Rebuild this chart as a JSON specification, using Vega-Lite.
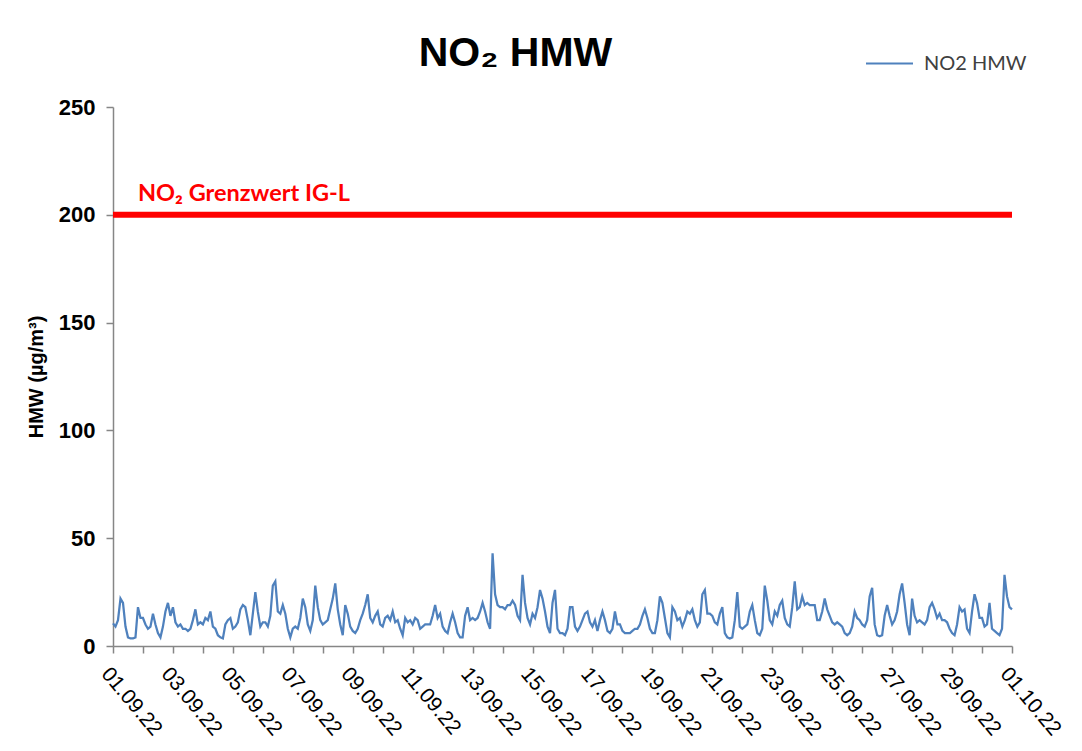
{
"$schema": "https://vega.github.io/schema/vega-lite/v6.json",
"width": 899, "height": 539,
"autosize": {"type": "none"},
"padding": {"left": 113, "top": 107, "right": 70, "bottom": 105},
"background": "white",
"title": {"text": "NO₂ HMW", "font": "Liberation Sans", "fontSize": 41, "fontWeight": "bold", "color": "black", "anchor": "middle", "dx": -47, "offset": 30, "dy": 66},
"config": {"view": {"stroke": null}},
"data": {"values": [
{"t":"2022-09-01T00:00","v":10.5},{"t":"2022-09-01T02:00","v":9},{"t":"2022-09-01T04:00","v":12},{"t":"2022-09-01T06:00","v":22},{"t":"2022-09-01T08:00","v":20},{"t":"2022-09-01T10:00","v":9},{"t":"2022-09-01T12:00","v":4},{"t":"2022-09-01T14:00","v":3.5},{"t":"2022-09-01T16:00","v":3.5},{"t":"2022-09-01T18:00","v":4},{"t":"2022-09-01T20:00","v":18},{"t":"2022-09-01T22:00","v":13},
{"t":"2022-09-02T00:00","v":13},{"t":"2022-09-02T02:00","v":10},{"t":"2022-09-02T04:00","v":8},{"t":"2022-09-02T06:00","v":9},{"t":"2022-09-02T08:00","v":15},{"t":"2022-09-02T10:00","v":10},{"t":"2022-09-02T12:00","v":6},{"t":"2022-09-02T14:00","v":4},{"t":"2022-09-02T16:00","v":9},{"t":"2022-09-02T18:00","v":16},{"t":"2022-09-02T20:00","v":20},{"t":"2022-09-02T22:00","v":14},
{"t":"2022-09-03T00:00","v":18},{"t":"2022-09-03T02:00","v":11},{"t":"2022-09-03T04:00","v":9},{"t":"2022-09-03T06:00","v":10},{"t":"2022-09-03T08:00","v":8},{"t":"2022-09-03T10:00","v":8},{"t":"2022-09-03T12:00","v":7},{"t":"2022-09-03T14:00","v":8},{"t":"2022-09-03T16:00","v":12},{"t":"2022-09-03T18:00","v":17},{"t":"2022-09-03T20:00","v":10},{"t":"2022-09-03T22:00","v":11},
{"t":"2022-09-04T00:00","v":10},{"t":"2022-09-04T02:00","v":13},{"t":"2022-09-04T04:00","v":12},{"t":"2022-09-04T06:00","v":16},{"t":"2022-09-04T08:00","v":9},{"t":"2022-09-04T10:00","v":8},{"t":"2022-09-04T12:00","v":5},{"t":"2022-09-04T14:00","v":4},{"t":"2022-09-04T16:00","v":3.5},{"t":"2022-09-04T18:00","v":10},{"t":"2022-09-04T20:00","v":12},{"t":"2022-09-04T22:00","v":13},
{"t":"2022-09-05T00:00","v":8},{"t":"2022-09-05T02:00","v":9},{"t":"2022-09-05T04:00","v":11},{"t":"2022-09-05T06:00","v":17},{"t":"2022-09-05T08:00","v":19},{"t":"2022-09-05T10:00","v":18},{"t":"2022-09-05T12:00","v":12},{"t":"2022-09-05T14:00","v":5},{"t":"2022-09-05T16:00","v":15},{"t":"2022-09-05T18:00","v":25},{"t":"2022-09-05T20:00","v":16},{"t":"2022-09-05T22:00","v":9},
{"t":"2022-09-06T00:00","v":11},{"t":"2022-09-06T02:00","v":11},{"t":"2022-09-06T04:00","v":9},{"t":"2022-09-06T06:00","v":14},{"t":"2022-09-06T08:00","v":28},{"t":"2022-09-06T10:00","v":30},{"t":"2022-09-06T12:00","v":16},{"t":"2022-09-06T14:00","v":15},{"t":"2022-09-06T16:00","v":19},{"t":"2022-09-06T18:00","v":15},{"t":"2022-09-06T20:00","v":8},{"t":"2022-09-06T22:00","v":4},
{"t":"2022-09-07T00:00","v":8},{"t":"2022-09-07T02:00","v":9},{"t":"2022-09-07T04:00","v":8},{"t":"2022-09-07T06:00","v":13},{"t":"2022-09-07T08:00","v":22},{"t":"2022-09-07T10:00","v":18},{"t":"2022-09-07T12:00","v":10},{"t":"2022-09-07T14:00","v":7},{"t":"2022-09-07T16:00","v":12},{"t":"2022-09-07T18:00","v":28},{"t":"2022-09-07T20:00","v":18},{"t":"2022-09-07T22:00","v":12},
{"t":"2022-09-08T00:00","v":10},{"t":"2022-09-08T02:00","v":11},{"t":"2022-09-08T04:00","v":12},{"t":"2022-09-08T06:00","v":17},{"t":"2022-09-08T08:00","v":22},{"t":"2022-09-08T10:00","v":29},{"t":"2022-09-08T12:00","v":17},{"t":"2022-09-08T14:00","v":10},{"t":"2022-09-08T16:00","v":5},{"t":"2022-09-08T18:00","v":19},{"t":"2022-09-08T20:00","v":15},{"t":"2022-09-08T22:00","v":9},
{"t":"2022-09-09T00:00","v":7},{"t":"2022-09-09T02:00","v":6},{"t":"2022-09-09T04:00","v":8},{"t":"2022-09-09T06:00","v":12},{"t":"2022-09-09T08:00","v":15},{"t":"2022-09-09T10:00","v":19},{"t":"2022-09-09T12:00","v":24},{"t":"2022-09-09T14:00","v":13},{"t":"2022-09-09T16:00","v":11},{"t":"2022-09-09T18:00","v":14},{"t":"2022-09-09T20:00","v":16},{"t":"2022-09-09T22:00","v":10},
{"t":"2022-09-10T00:00","v":9},{"t":"2022-09-10T02:00","v":13},{"t":"2022-09-10T04:00","v":14},{"t":"2022-09-10T06:00","v":12},{"t":"2022-09-10T08:00","v":16},{"t":"2022-09-10T10:00","v":11},{"t":"2022-09-10T12:00","v":12},{"t":"2022-09-10T14:00","v":8},{"t":"2022-09-10T16:00","v":5},{"t":"2022-09-10T18:00","v":13},{"t":"2022-09-10T20:00","v":11},{"t":"2022-09-10T22:00","v":12},
{"t":"2022-09-11T00:00","v":10},{"t":"2022-09-11T02:00","v":13},{"t":"2022-09-11T04:00","v":12},{"t":"2022-09-11T06:00","v":8},{"t":"2022-09-11T08:00","v":9},{"t":"2022-09-11T10:00","v":10},{"t":"2022-09-11T12:00","v":10},{"t":"2022-09-11T14:00","v":10},{"t":"2022-09-11T16:00","v":14},{"t":"2022-09-11T18:00","v":19},{"t":"2022-09-11T20:00","v":13},{"t":"2022-09-11T22:00","v":15},
{"t":"2022-09-12T00:00","v":9},{"t":"2022-09-12T02:00","v":7},{"t":"2022-09-12T04:00","v":6},{"t":"2022-09-12T06:00","v":11},{"t":"2022-09-12T08:00","v":15},{"t":"2022-09-12T10:00","v":11},{"t":"2022-09-12T12:00","v":6},{"t":"2022-09-12T14:00","v":4},{"t":"2022-09-12T16:00","v":4},{"t":"2022-09-12T18:00","v":14},{"t":"2022-09-12T20:00","v":18},{"t":"2022-09-12T22:00","v":12},
{"t":"2022-09-13T00:00","v":13},{"t":"2022-09-13T02:00","v":12},{"t":"2022-09-13T04:00","v":13},{"t":"2022-09-13T06:00","v":16},{"t":"2022-09-13T08:00","v":20},{"t":"2022-09-13T10:00","v":16},{"t":"2022-09-13T12:00","v":11},{"t":"2022-09-13T14:00","v":8},{"t":"2022-09-13T16:00","v":43},{"t":"2022-09-13T18:00","v":24},{"t":"2022-09-13T20:00","v":19},{"t":"2022-09-13T22:00","v":18},
{"t":"2022-09-14T00:00","v":18},{"t":"2022-09-14T02:00","v":17},{"t":"2022-09-14T04:00","v":19},{"t":"2022-09-14T06:00","v":19},{"t":"2022-09-14T08:00","v":21},{"t":"2022-09-14T10:00","v":19},{"t":"2022-09-14T12:00","v":14},{"t":"2022-09-14T14:00","v":12},{"t":"2022-09-14T16:00","v":33},{"t":"2022-09-14T18:00","v":20},{"t":"2022-09-14T20:00","v":13},{"t":"2022-09-14T22:00","v":10},
{"t":"2022-09-15T00:00","v":15},{"t":"2022-09-15T02:00","v":13},{"t":"2022-09-15T04:00","v":18},{"t":"2022-09-15T06:00","v":26},{"t":"2022-09-15T08:00","v":22},{"t":"2022-09-15T10:00","v":16},{"t":"2022-09-15T12:00","v":9},{"t":"2022-09-15T14:00","v":6},{"t":"2022-09-15T16:00","v":20},{"t":"2022-09-15T18:00","v":26},{"t":"2022-09-15T20:00","v":8},{"t":"2022-09-15T22:00","v":6},
{"t":"2022-09-16T00:00","v":6},{"t":"2022-09-16T02:00","v":5},{"t":"2022-09-16T04:00","v":8},{"t":"2022-09-16T06:00","v":18},{"t":"2022-09-16T08:00","v":18},{"t":"2022-09-16T10:00","v":9},{"t":"2022-09-16T12:00","v":7},{"t":"2022-09-16T14:00","v":9},{"t":"2022-09-16T16:00","v":12},{"t":"2022-09-16T18:00","v":15},{"t":"2022-09-16T20:00","v":16},{"t":"2022-09-16T22:00","v":11},
{"t":"2022-09-17T00:00","v":9},{"t":"2022-09-17T02:00","v":12},{"t":"2022-09-17T04:00","v":7},{"t":"2022-09-17T06:00","v":12},{"t":"2022-09-17T08:00","v":16},{"t":"2022-09-17T10:00","v":12},{"t":"2022-09-17T12:00","v":7},{"t":"2022-09-17T14:00","v":6},{"t":"2022-09-17T16:00","v":8},{"t":"2022-09-17T18:00","v":16},{"t":"2022-09-17T20:00","v":10},{"t":"2022-09-17T22:00","v":10},
{"t":"2022-09-18T00:00","v":7},{"t":"2022-09-18T02:00","v":6},{"t":"2022-09-18T04:00","v":6},{"t":"2022-09-18T06:00","v":6},{"t":"2022-09-18T08:00","v":7},{"t":"2022-09-18T10:00","v":8},{"t":"2022-09-18T12:00","v":8},{"t":"2022-09-18T14:00","v":10},{"t":"2022-09-18T16:00","v":14},{"t":"2022-09-18T18:00","v":17},{"t":"2022-09-18T20:00","v":13},{"t":"2022-09-18T22:00","v":8},
{"t":"2022-09-19T00:00","v":6},{"t":"2022-09-19T02:00","v":6},{"t":"2022-09-19T04:00","v":12},{"t":"2022-09-19T06:00","v":23},{"t":"2022-09-19T08:00","v":20},{"t":"2022-09-19T10:00","v":13},{"t":"2022-09-19T12:00","v":6},{"t":"2022-09-19T14:00","v":4},{"t":"2022-09-19T16:00","v":18},{"t":"2022-09-19T18:00","v":16},{"t":"2022-09-19T20:00","v":12},{"t":"2022-09-19T22:00","v":13},
{"t":"2022-09-20T00:00","v":9},{"t":"2022-09-20T02:00","v":12},{"t":"2022-09-20T04:00","v":16},{"t":"2022-09-20T06:00","v":15},{"t":"2022-09-20T08:00","v":17},{"t":"2022-09-20T10:00","v":12},{"t":"2022-09-20T12:00","v":9},{"t":"2022-09-20T14:00","v":11},{"t":"2022-09-20T16:00","v":24},{"t":"2022-09-20T18:00","v":26},{"t":"2022-09-20T20:00","v":15},{"t":"2022-09-20T22:00","v":15},
{"t":"2022-09-21T00:00","v":14},{"t":"2022-09-21T02:00","v":11},{"t":"2022-09-21T04:00","v":10},{"t":"2022-09-21T06:00","v":15},{"t":"2022-09-21T08:00","v":18},{"t":"2022-09-21T10:00","v":6},{"t":"2022-09-21T12:00","v":4},{"t":"2022-09-21T14:00","v":3.5},{"t":"2022-09-21T16:00","v":4},{"t":"2022-09-21T18:00","v":12},{"t":"2022-09-21T20:00","v":25},{"t":"2022-09-21T22:00","v":9},
{"t":"2022-09-22T00:00","v":8},{"t":"2022-09-22T02:00","v":9},{"t":"2022-09-22T04:00","v":10},{"t":"2022-09-22T06:00","v":16},{"t":"2022-09-22T08:00","v":19},{"t":"2022-09-22T10:00","v":12},{"t":"2022-09-22T12:00","v":6},{"t":"2022-09-22T14:00","v":5},{"t":"2022-09-22T16:00","v":8},{"t":"2022-09-22T18:00","v":28},{"t":"2022-09-22T20:00","v":21},{"t":"2022-09-22T22:00","v":12},
{"t":"2022-09-23T00:00","v":10},{"t":"2022-09-23T02:00","v":16},{"t":"2022-09-23T04:00","v":14},{"t":"2022-09-23T06:00","v":19},{"t":"2022-09-23T08:00","v":21},{"t":"2022-09-23T10:00","v":13},{"t":"2022-09-23T12:00","v":10},{"t":"2022-09-23T14:00","v":9},{"t":"2022-09-23T16:00","v":18},{"t":"2022-09-23T18:00","v":30},{"t":"2022-09-23T20:00","v":17},{"t":"2022-09-23T22:00","v":18},
{"t":"2022-09-24T00:00","v":23},{"t":"2022-09-24T02:00","v":19},{"t":"2022-09-24T04:00","v":20},{"t":"2022-09-24T06:00","v":19},{"t":"2022-09-24T08:00","v":19},{"t":"2022-09-24T10:00","v":19},{"t":"2022-09-24T12:00","v":12},{"t":"2022-09-24T14:00","v":12},{"t":"2022-09-24T16:00","v":16},{"t":"2022-09-24T18:00","v":22},{"t":"2022-09-24T20:00","v":17},{"t":"2022-09-24T22:00","v":14},
{"t":"2022-09-25T00:00","v":11},{"t":"2022-09-25T02:00","v":10},{"t":"2022-09-25T04:00","v":11},{"t":"2022-09-25T06:00","v":10},{"t":"2022-09-25T08:00","v":9},{"t":"2022-09-25T10:00","v":6},{"t":"2022-09-25T12:00","v":5},{"t":"2022-09-25T14:00","v":6},{"t":"2022-09-25T16:00","v":9},{"t":"2022-09-25T18:00","v":16},{"t":"2022-09-25T20:00","v":13},{"t":"2022-09-25T22:00","v":12},
{"t":"2022-09-26T00:00","v":10},{"t":"2022-09-26T02:00","v":9},{"t":"2022-09-26T04:00","v":12},{"t":"2022-09-26T06:00","v":23},{"t":"2022-09-26T08:00","v":27},{"t":"2022-09-26T10:00","v":10},{"t":"2022-09-26T12:00","v":5},{"t":"2022-09-26T14:00","v":4.5},{"t":"2022-09-26T16:00","v":5},{"t":"2022-09-26T18:00","v":14},{"t":"2022-09-26T20:00","v":19},{"t":"2022-09-26T22:00","v":14},
{"t":"2022-09-27T00:00","v":10},{"t":"2022-09-27T02:00","v":12},{"t":"2022-09-27T04:00","v":16},{"t":"2022-09-27T06:00","v":24},{"t":"2022-09-27T08:00","v":29},{"t":"2022-09-27T10:00","v":20},{"t":"2022-09-27T12:00","v":10},{"t":"2022-09-27T14:00","v":5},{"t":"2022-09-27T16:00","v":22},{"t":"2022-09-27T18:00","v":14},{"t":"2022-09-27T20:00","v":11},{"t":"2022-09-27T22:00","v":12},
{"t":"2022-09-28T00:00","v":11},{"t":"2022-09-28T02:00","v":10},{"t":"2022-09-28T04:00","v":12},{"t":"2022-09-28T06:00","v":18},{"t":"2022-09-28T08:00","v":20},{"t":"2022-09-28T10:00","v":17},{"t":"2022-09-28T12:00","v":13},{"t":"2022-09-28T14:00","v":15},{"t":"2022-09-28T16:00","v":12},{"t":"2022-09-28T18:00","v":12},{"t":"2022-09-28T20:00","v":11},{"t":"2022-09-28T22:00","v":8},
{"t":"2022-09-29T00:00","v":6},{"t":"2022-09-29T02:00","v":5},{"t":"2022-09-29T04:00","v":10},{"t":"2022-09-29T06:00","v":18},{"t":"2022-09-29T08:00","v":16},{"t":"2022-09-29T10:00","v":17},{"t":"2022-09-29T12:00","v":8},{"t":"2022-09-29T14:00","v":6},{"t":"2022-09-29T16:00","v":16},{"t":"2022-09-29T18:00","v":24},{"t":"2022-09-29T20:00","v":20},{"t":"2022-09-29T22:00","v":13},
{"t":"2022-09-30T00:00","v":13},{"t":"2022-09-30T02:00","v":9},{"t":"2022-09-30T04:00","v":10},{"t":"2022-09-30T06:00","v":20},{"t":"2022-09-30T08:00","v":8},{"t":"2022-09-30T10:00","v":7},{"t":"2022-09-30T12:00","v":6},{"t":"2022-09-30T14:00","v":5},{"t":"2022-09-30T16:00","v":8},{"t":"2022-09-30T18:00","v":33},{"t":"2022-09-30T20:00","v":23},{"t":"2022-09-30T22:00","v":18},
{"t":"2022-10-01T00:00","v":17}
]},
"layer": [
{"data": {"values": [{}]}, "mark": {"type": "rule", "color": "#FF0000", "strokeWidth": 6}, "encoding": {"y": {"datum": 200, "type": "quantitative"}}},
{"data": {"values": [{}]}, "mark": {"type": "text", "color": "#FF0000", "font": "Lato", "fontWeight": "bold", "fontSize": 23.5, "align": "left", "baseline": "alphabetic", "dy": -14}, "encoding": {"x": {"datum": {"year": 2022, "month": 9, "date": 1, "hours": 20}, "type": "temporal"}, "y": {"datum": 200, "type": "quantitative"}, "text": {"value": "NO₂ Grenzwert IG-L"}}},
{"mark": {"type": "line", "strokeWidth": 2.25},
 "encoding": {
  "x": {"field": "t", "type": "temporal", "title": null,
    "scale": {"domain": [{"year": 2022, "month": 9, "date": 1}, {"year": 2022, "month": 10, "date": 1}]},
    "axis": {"tickCount": {"interval": "day", "step": 1}, "labelExpr": "date(datum.value) % 2 == 1 ? timeFormat(datum.value, '%d.%m.%y') : ''", "labelAngle": 50, "labelAlign": "left", "labelBaseline": "top", "labelFont": "Liberation Sans", "labelFontSize": 21, "labelColor": "black", "labelOverlap": false, "labelFlush": false, "grid": false, "domainColor": "#868686", "domainWidth": 1.5, "tickColor": "#868686", "tickSize": 7, "tickWidth": 1.5, "labelPadding": 10}},
  "y": {"field": "v", "type": "quantitative", "scale": {"domain": [0, 250], "nice": false},
    "axis": {"values": [0, 50, 100, 150, 200, 250], "title": "HMW (µg/m³)", "titleFont": "Liberation Sans", "titleFontSize": 20, "titleFontWeight": "bold", "titleColor": "black", "titlePadding": 12, "labelFont": "Liberation Sans", "labelFontSize": 22, "labelFontWeight": "bold", "labelColor": "black", "labelPadding": 11, "tickSize": 7, "tickColor": "#868686", "tickWidth": 1.5, "domainColor": "#868686", "domainWidth": 1.5, "gridColor": "#868686", "gridWidth": 1.5}},
  "color": {"datum": "NO2 HMW", "scale": {"range": ["#4F81BD"]},
    "legend": {"title": null, "orient": "none", "legendX": 752, "legendY": -68, "symbolType": "stroke", "symbolSize": 2209, "symbolStrokeWidth": 2, "labelFont": "Lato", "labelFontSize": 20, "labelColor": "#404040", "labelOffset": 10}}
 }}
]
}
